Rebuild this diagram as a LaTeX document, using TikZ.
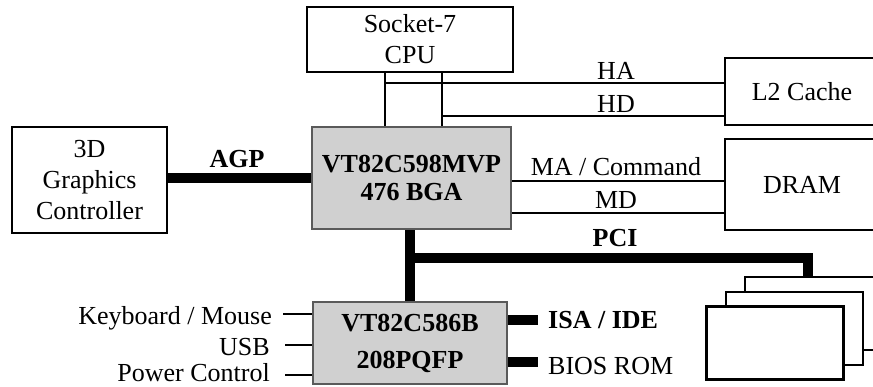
\documentclass[tikz,border=0pt]{standalone}
\usepackage{fontspec}
\setmainfont{Liberation Serif}
\usetikzlibrary{positioning}
\definecolor{chipfill}{RGB}{208,208,208}
\definecolor{chipedge}{RGB}{90,90,90}
\begin{document}
\begin{tikzpicture}[x=1pt, y=-1pt,
    box/.style={draw, line width=2pt, fill=white, inner sep=0pt, align=center, font=\fontsize{26}{31}\selectfont},
    chip/.style={box, draw=chipedge, fill=chipfill, font=\fontsize{26}{28}\selectfont\bfseries},
    card/.style={draw, line width=2.5pt, fill=white, minimum width=137pt, minimum height=73pt},
    wire/.style={line width=1.6pt},
    bus/.style={line width=10pt},
    lbl/.style={inner sep=0pt, font=\fontsize{26}{31}\selectfont},
    sidelbl/.style={lbl, anchor=east}
]
\useasboundingbox (0,0) rectangle (873,386);
\clip (0,0) rectangle (873,386);
% chips and boxes
\node[box, minimum width=206pt, minimum height=65pt] (cpu) at (410,39.5) {Socket-7\\CPU};
\node[chip, minimum width=199pt, minimum height=102pt] (nb) at (411.5,178) {VT82C598MVP\\476 BGA};
\node[box, minimum width=155pt, minimum height=106pt] (gfx) at (89.5,180) {3D\\Graphics\\Controller};
\node[box, minimum width=154pt, minimum height=67pt] (l2) at (802,91.5) {L2 Cache};
\node[box, minimum width=154pt, minimum height=91pt] (dram) at (802,184.5) {DRAM};
\node[chip, minimum width=194pt, minimum height=82pt, font=\fontsize{26}{37}\selectfont\bfseries] (sb) at (410,343) {VT82C586B\\208PQFP};
\foreach \i in {1,2,3} {
    \node[card] (card\i) at ({813.5-19.25*(\i-1)}, {313.5+14.75*(\i-1)}) {};
}
% host bus
\coordinate (hatap) at (385,83);
\coordinate (hdtap) at (442,116);
\draw[wire] (cpu.south -| hatap) -- (nb.north -| hatap);
\draw[wire] (cpu.south -| hdtap) -- (nb.north -| hdtap);
\draw[wire] (hatap) -- (hatap -| l2.west);
\draw[wire] (hdtap) -- (hdtap -| l2.west);
\node[lbl, anchor=base] (halbl) at (616,79) {HA};
\node[lbl, anchor=base] (hdlbl) at (616,112) {HD};
% memory bus
\coordinate (matap) at (616,181);
\coordinate (mdtap) at (616,213);
\draw[wire] (matap -| nb.east) -- (matap -| dram.west);
\draw[wire] (mdtap -| nb.east) -- (mdtap -| dram.west);
\node[lbl, anchor=base] (malbl) at (616,175) {MA / Command};
\node[lbl, anchor=base] (mdlbl) at (616,208) {MD};
% AGP
\draw[bus] (gfx.east |- nb.west) -- (nb.west);
\node[lbl, anchor=base, font=\fontsize{26}{31}\selectfont\bfseries] (agplbl) at (237,167) {AGP};
% PCI
\coordinate (pcitap) at (410,258);
\coordinate (pcidrop) at (808,258);
\draw[bus] (nb.south -| pcitap) -- (sb.north -| pcitap);
\draw[bus] (pcitap) -- (pcidrop) -- (pcidrop |- card1.north);
\node[lbl, anchor=base, font=\fontsize{26}{31}\selectfont\bfseries] (pcilbl) at (615,246) {PCI};
% south bridge side
\node[lbl, anchor=west, font=\fontsize{26}{31}\selectfont\bfseries] (isa) at (548,320) {ISA / IDE};
\node[lbl, anchor=west] (bios) at (548,366) {BIOS ROM};
\draw[bus] (isa.west -| sb.east) -- ([xshift=-10pt]isa.west);
\draw[bus] ([yshift=4pt]bios.west -| sb.east) -- ([xshift=-10pt, yshift=4pt]bios.west);
\node[sidelbl] (kbd) at (272,318) {Keyboard / Mouse};
\node[sidelbl] (usb) at (270,347) {USB};
\node[sidelbl] (pwr) at (270,373) {Power Control};
\draw[wire] ([xshift=11pt, yshift=4pt]kbd.east) -- ([yshift=4pt]kbd.east -| sb.west);
\draw[wire] ([xshift=15pt, yshift=2pt]usb.east) -- ([yshift=2pt]usb.east -| sb.west);
\draw[wire] ([xshift=15pt, yshift=-2pt]pwr.east) -- ([yshift=-2pt]pwr.east -| sb.west);
\end{tikzpicture}
\end{document}
